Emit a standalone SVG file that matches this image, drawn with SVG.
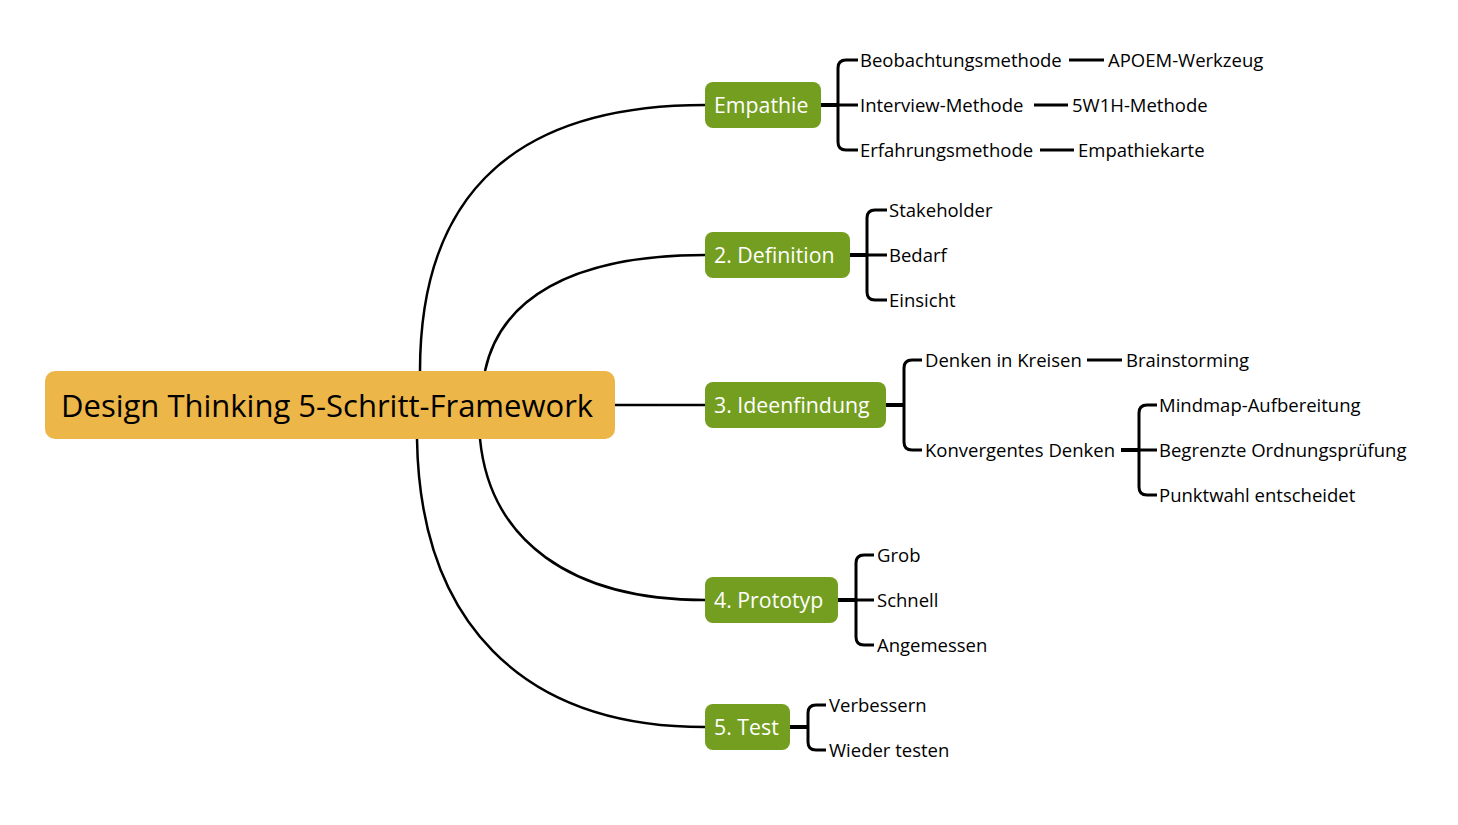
<svg xmlns="http://www.w3.org/2000/svg" width="1458" height="825" viewBox="0 0 1458 825">
<style>
.root{fill:#EDB649;}
.br{fill:#739E1F;}
.rt{font-family:"Open Sans","Noto Sans",sans-serif;font-size:31px;fill:#000;}
.bt{font-family:"Open Sans","Noto Sans",sans-serif;font-size:21.3px;fill:#fff;}
.lt{font-family:"Open Sans","Noto Sans",sans-serif;font-size:18.5px;fill:#000;}
.c{fill:none;stroke:#000;stroke-width:2.5;}
.k{fill:none;stroke:#000;stroke-width:3;stroke-linejoin:round;}
.t{fill:none;stroke:#000;stroke-width:4;}
</style>
<rect width="1458" height="825" fill="#fff"/>
<g id="connectors">
<path class="c" d="M420,371 C420,190 520,105 705,105"/>
<path class="c" d="M485,371 C500,300 570,255 705,255"/>
<path class="c" d="M615,405 L705,405"/>
<path class="c" d="M480,439 C490,540 570,600 705,600"/>
<path class="c" d="M417,439 C420,620 520,727 705,727"/>
<path class="t" d="M821,105 H838"/>
<path class="k" d="M858,60 H846 Q838,60 838,68 V142 Q838,150 846,150 H858 M838,105 H858"/>
<path class="k" d="M1069,60 H1104 M1034,105 H1068 M1040,150 H1074"/>
<path class="t" d="M850,255 H867"/>
<path class="k" d="M887,210 H875 Q867,210 867,218 V292 Q867,300 875,300 H887 M867,255 H887"/>
<path class="t" d="M886,405 H904"/>
<path class="k" d="M922,360 H912 Q904,360 904,368 V442 Q904,450 912,450 H922"/>
<path class="k" d="M1087,360 H1122"/>
<path class="t" d="M1121,450 H1139"/>
<path class="k" d="M1157,405 H1147 Q1139,405 1139,413 V487 Q1139,495 1147,495 H1157 M1139,450 H1157"/>
<path class="t" d="M838,600 H856"/>
<path class="k" d="M874,555 H864 Q856,555 856,563 V637 Q856,645 864,645 H874 M856,600 H874"/>
<path class="t" d="M790,727 H808"/>
<path class="k" d="M826,705 H816 Q808,705 808,713 V742 Q808,750 816,750 H826"/>
</g>
<g id="root">
<rect class="root" x="45" y="371" width="570" height="68" rx="10"/>
<text class="rt" x="61" y="417">Design Thinking 5-Schritt-Framework</text>
</g>
<g id="empathie">
<rect class="br" x="705" y="82" width="116" height="46" rx="8"/>
<text class="bt" x="714" y="112.5">Empathie</text>
</g>
<g id="definition">
<rect class="br" x="705" y="232" width="145" height="46" rx="8"/>
<text class="bt" x="714" y="262.5">2. Definition</text>
</g>
<g id="ideenfindung">
<rect class="br" x="705" y="382" width="181" height="46" rx="8"/>
<text class="bt" x="714" y="412.5">3. Ideenfindung</text>
</g>
<g id="prototyp">
<rect class="br" x="705" y="577" width="133" height="46" rx="8"/>
<text class="bt" x="714" y="607.5">4. Prototyp</text>
</g>
<g id="test">
<rect class="br" x="705" y="704" width="85" height="46" rx="8"/>
<text class="bt" x="714" y="734.5">5. Test</text>
</g>
<g id="leaf-beobachtung"><text class="lt" x="860" y="67">Beobachtungsmethode</text></g>
<g id="leaf-apoem"><text class="lt" x="1108" y="67">APOEM-Werkzeug</text></g>
<g id="leaf-interview"><text class="lt" x="860" y="112">Interview-Methode</text></g>
<g id="leaf-5w1h"><text class="lt" x="1072" y="112">5W1H-Methode</text></g>
<g id="leaf-erfahrung"><text class="lt" x="860" y="157">Erfahrungsmethode</text></g>
<g id="leaf-empathiekarte"><text class="lt" x="1078" y="157">Empathiekarte</text></g>
<g id="leaf-stakeholder"><text class="lt" x="889" y="217">Stakeholder</text></g>
<g id="leaf-bedarf"><text class="lt" x="889" y="262">Bedarf</text></g>
<g id="leaf-einsicht"><text class="lt" x="889" y="307">Einsicht</text></g>
<g id="leaf-kreisen"><text class="lt" x="925" y="367">Denken in Kreisen</text></g>
<g id="leaf-brainstorming"><text class="lt" x="1126" y="367">Brainstorming</text></g>
<g id="leaf-konvergent"><text class="lt" x="925" y="457">Konvergentes Denken</text></g>
<g id="leaf-mindmap"><text class="lt" x="1159" y="412">Mindmap-Aufbereitung</text></g>
<g id="leaf-ordnung"><text class="lt" x="1159" y="457">Begrenzte Ordnungsprüfung</text></g>
<g id="leaf-punktwahl"><text class="lt" x="1159" y="502">Punktwahl entscheidet</text></g>
<g id="leaf-grob"><text class="lt" x="877" y="562">Grob</text></g>
<g id="leaf-schnell"><text class="lt" x="877" y="607">Schnell</text></g>
<g id="leaf-angemessen"><text class="lt" x="877" y="652">Angemessen</text></g>
<g id="leaf-verbessern"><text class="lt" x="829" y="712">Verbessern</text></g>
<g id="leaf-wieder"><text class="lt" x="829" y="757">Wieder testen</text></g>
</svg>
